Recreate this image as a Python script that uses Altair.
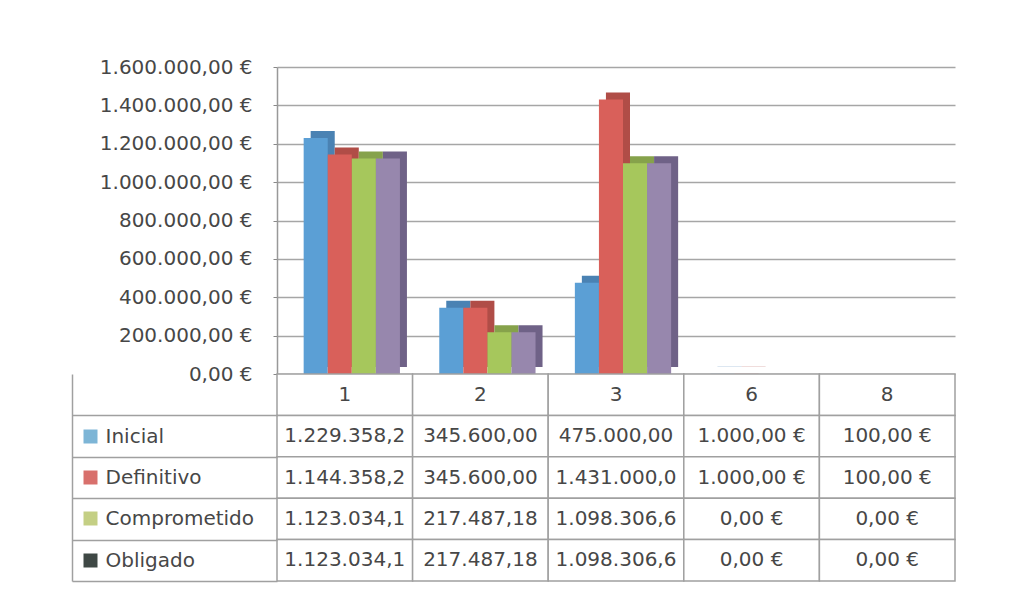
import altair as alt
import pandas as pd

# ---- data ----
categories = ["1", "2", "3", "6", "8"]
series = ["Inicial", "Definitivo", "Comprometido", "Obligado"]
inicial = [1229358.20, 345600.00, 475000.00, 1000.00, 100.00]
definitivo = [1144358.20, 345600.00, 1431000.00, 1000.00, 100.00]
comprometido = [1123034.10, 217487.18, 1098306.60, 0.00, 0.00]
obligado = [1123034.10, 217487.18, 1098306.60, 0.00, 0.00]
y_ticks = [0, 200000, 400000, 600000, 800000, 1000000, 1200000, 1400000, 1600000]

bar_colors = ["#5b9fd5", "#d9605a", "#a6c75c", "#9787ad"]
side_colors = ["#4a82b3", "#b04d47", "#86a24b", "#6f6287"]
key_colors = ["#7db5d6", "#d8706c", "#c4cf84", "#3f4845"]

FONT = "DejaVu Sans"
TXT = "#474747"
GRID = "#a6a6a6"
BORDER = "#a0a0a0"

PLOT_W = 678
PAD_IN = 0.29
DEPTH = 7
SHIFT = 7
BAND_W = PLOT_W / len(categories) * (1 - PAD_IN)

values_by_series = dict(zip(series, [inicial, definitivo, comprometido, obligado]))


def eur(v):
    s = f"{v:,.2f}".replace(",", "X").replace(".", ",").replace("X", ".")
    return (s + " €")[:11].rstrip()


bar_rows = []
for s in series:
    for c, v in zip(categories, values_by_series[s]):
        bar_rows.append({"cat": c, "serie": s, "value": v})
bars_df = pd.DataFrame(bar_rows)

HDR = "_hdr"
rows_order = [HDR] + series
table_rows = [{"cat": c, "row": HDR, "text": c} for c in categories]
for s in series:
    for c, v in zip(categories, values_by_series[s]):
        table_rows.append({"cat": c, "row": s, "text": eur(v)})
table_df = pd.DataFrame(table_rows)

# ---- bar panel ----
yaxis = alt.Axis(
    values=y_ticks, format="$,.2f", labelFont=FONT, labelFontSize=20,
    labelColor=TXT, labelPadding=21, tickSize=4, tickColor="#888888",
    domainColor="#999999", domainWidth=1.5, gridColor=GRID, gridWidth=1.5,
    title=None,
)

x_b = alt.X("cat:N", sort=categories,
            scale=alt.Scale(domain=categories, paddingInner=PAD_IN, paddingOuter=PAD_IN / 2),
            axis=None)
y_b = alt.Y("value:Q", scale=alt.Scale(domain=[0, 1600000], nice=False), axis=yaxis)

# darker copy shifted right/up: side and top faces of the pseudo-3D bars
shadow = alt.Chart(bars_df).mark_bar(yOffset=-DEPTH, y2Offset=-2).encode(
    x=x_b,
    xOffset=alt.XOffset("serie:N", sort=series,
                        scale=alt.Scale(domain=series,
                                        range=[SHIFT + DEPTH, SHIFT + BAND_W + DEPTH])),
    y=y_b,
    color=alt.Color("serie:N", scale=alt.Scale(domain=series, range=side_colors), legend=None),
)
front = alt.Chart(bars_df).mark_bar().encode(
    x=x_b,
    xOffset=alt.XOffset("serie:N", sort=series,
                        scale=alt.Scale(domain=series, range=[SHIFT, SHIFT + BAND_W])),
    y=y_b,
    fill=alt.Fill("serie:N", scale=alt.Scale(domain=series, range=bar_colors), legend=None),
)

bar_chart = alt.layer(shadow, front).resolve_scale(
    color="independent", xOffset="independent"
).properties(width=PLOT_W, height=307)

# ---- data table panel ----
x_t = alt.X("cat:N", sort=categories,
            scale=alt.Scale(domain=categories, paddingInner=0, paddingOuter=0), axis=None)
y_scale = alt.Scale(domain=rows_order, paddingInner=0, paddingOuter=0)

cells = alt.Chart(table_df).mark_rect(fill="white", stroke=BORDER, strokeWidth=1.5).encode(
    x=x_t,
    y=alt.Y("row:N", sort=rows_order, scale=y_scale,
            axis=alt.Axis(orient="left", values=series, tickBand="extent", tickSize=205,
                          tickWidth=1.5, tickColor=BORDER, domain=False, grid=False,
                          labelAlign="left", labelPadding=-33, labelFont=FONT,
                          labelFontSize=20, labelColor=TXT, title=None)),
)

texts = alt.Chart(table_df).mark_text(font=FONT, fontSize=20, color=TXT).encode(
    x=x_t,
    y=alt.Y("row:N", sort=rows_order, scale=y_scale, axis=None),
    text="text:N",
)

border = alt.Chart(table_df).mark_rect(opacity=0).encode(
    x=x_t,
    y=alt.Y("row:N", sort=rows_order, scale=y_scale,
            axis=alt.Axis(orient="left", offset=205, domain=True, domainColor=BORDER,
                          domainWidth=1.5, ticks=False, labels=False, grid=False, title=None)),
)

keys = []
for name, col in zip(series, key_colors):
    keys.append(alt.Chart(table_df).mark_rect(opacity=0).encode(
        x=x_t,
        y=alt.Y("row:N", sort=rows_order, scale=y_scale,
                axis=alt.Axis(orient="left", offset=180, values=[name], domain=False,
                              ticks=True, tickSize=14, tickWidth=14, tickColor=col,
                              labels=False, grid=False, title=None)),
    ))

table = alt.layer(cells, texts, border, *keys).resolve_axis(y="independent").properties(
    width=PLOT_W, height=207)

chart = alt.vconcat(bar_chart, table, spacing=0, bounds="flush").properties(
    padding={"left": 63, "top": 49, "right": 10, "bottom": 5}
).configure(
    locale=alt.Locale(number=alt.NumberLocale(decimal=",", thousands=".", grouping=[3],
                                              currency=["", " €"]))
).configure_view(strokeWidth=0)

chart.save("out.html", embed_options={"renderer": "svg", "actions": False})
